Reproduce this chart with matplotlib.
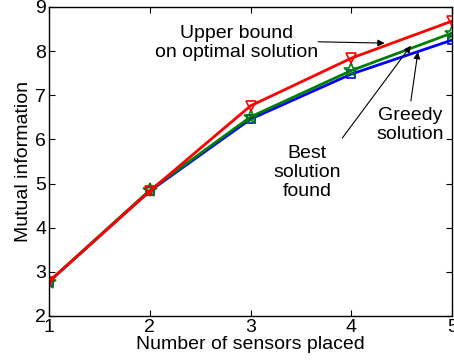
import matplotlib
matplotlib.use('Agg')
import matplotlib.pyplot as plt

plt.rcParams['font.family'] = ['Liberation Sans', 'DejaVu Sans']

# data
sensors = [1, 2, 3, 4, 5]
greedy = [2.78, 4.83, 6.46, 7.48, 8.25]
best = [2.78, 4.85, 6.51, 7.56, 8.41]
upper = [2.78, 4.83, 6.76, 7.84, 8.68]

fig = plt.figure(figsize=(4.54, 3.64), dpi=100)
ax = fig.add_axes([0.108, 0.132, 0.888, 0.849])

ax.plot(sensors, greedy, color='blue', lw=2, marker='s', ms=6, mfc='none', mew=1.2)
ax.plot(sensors, best, color=(0, 0.5, 0), lw=2, marker='*', ms=10, mfc='none', mew=1.2)
ax.plot(sensors, upper, color='red', lw=2, marker='v', ms=7, mfc='none', mew=1.2)

ax.set_xlim(1, 5)
ax.set_ylim(2, 9)
ax.set_xticks(sensors)
ax.set_yticks(range(2, 10))
ax.tick_params(direction='in', top=True, right=True, labelsize=14, length=4, pad=2)
for s in ax.spines.values():
    s.set_linewidth(1)

ax.set_xlabel('Number of sensors placed', fontsize=14, labelpad=0)
ax.set_ylabel('Mutual information', fontsize=14, labelpad=2)

arrow = dict(arrowstyle='-|>', color='k', lw=0.8, mutation_scale=10, shrinkA=0, shrinkB=0)
ax.text(2.86, 8.18, 'Upper bound\non optimal solution', fontsize=14, ha='center', va='center', linespacing=1.15)
ax.annotate('', xy=(4.33, 8.18), xytext=(3.67, 8.21), arrowprops=arrow)
ax.text(3.56, 5.24, 'Best\nsolution\nfound', fontsize=14, ha='center', va='center', linespacing=1.15)
ax.annotate('', xy=(4.59, 8.12), xytext=(3.91, 6.03), arrowprops=arrow)
ax.text(4.58, 6.33, 'Greedy\nsolution', fontsize=14, ha='center', va='center', linespacing=1.15)
ax.annotate('', xy=(4.66, 7.98), xytext=(4.59, 6.87), arrowprops=arrow)

fig.savefig('out.png', dpi=100)
